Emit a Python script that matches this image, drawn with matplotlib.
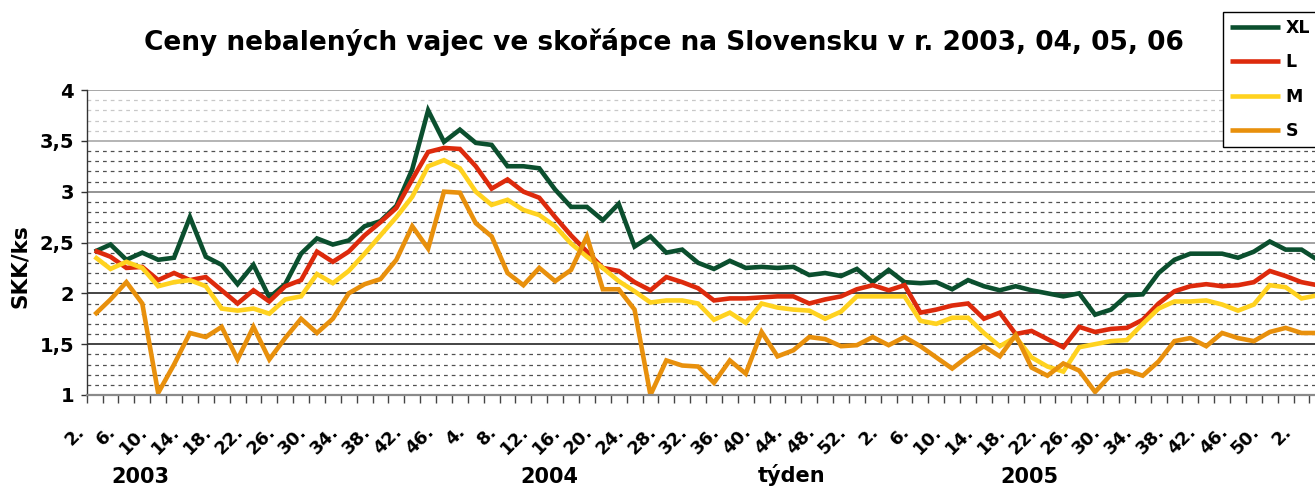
import matplotlib
matplotlib.use('Agg')
import matplotlib.pyplot as plt
from matplotlib.transforms import ScaledTranslation
import numpy as np

# ---- data -------------------------------------------------------------
weeks_2003 = [2, 4, 6, 8, 10, 12, 14, 16, 18, 20, 22, 24, 26, 28, 30, 32, 34,
              36, 38, 40, 42, 44, 46]
weeks_2004 = [2, 4, 6, 8, 10, 12, 14, 16, 18, 20, 22, 24, 26, 28, 30, 32, 34,
              36, 38, 40, 42, 44, 46, 48, 50, 52, 53]
weeks_2005 = [2, 4, 6, 8, 10, 12, 14, 16, 18, 20, 22, 24, 26, 28, 30, 32, 34,
              36, 38, 40, 42, 44, 46, 48, 50, 52]
weeks_2006 = [2, 4]

xl = [2.41, 2.48, 2.33, 2.40, 2.33, 2.35, 2.75, 2.36, 2.28, 2.09,
      2.28, 1.96, 2.09, 2.39, 2.54, 2.48, 2.52, 2.66, 2.71, 2.86,
      3.22, 3.80, 3.49, 3.61, 3.48, 3.46, 3.25, 3.25, 3.23, 3.02,
      2.85, 2.85, 2.72, 2.88, 2.46, 2.56, 2.40, 2.43, 2.30, 2.24,
      2.32, 2.25, 2.26, 2.25, 2.26, 2.18, 2.20, 2.17, 2.24, 2.11,
      2.23, 2.11, 2.10, 2.11, 2.04, 2.13, 2.07, 2.03, 2.07, 2.03,
      2.00, 1.97, 2.00, 1.79, 1.84, 1.98, 1.99, 2.20, 2.33, 2.39,
      2.39, 2.39, 2.35, 2.41, 2.51, 2.43, 2.43, 2.33]
l = [2.42, 2.36, 2.25, 2.26, 2.13, 2.20, 2.13, 2.16, 2.03, 1.90,
     2.03, 1.92, 2.07, 2.13, 2.41, 2.31, 2.41, 2.57, 2.70, 2.84,
     3.12, 3.39, 3.43, 3.42, 3.25, 3.03, 3.12, 3.00, 2.94, 2.75,
     2.57, 2.41, 2.25, 2.22, 2.11, 2.03, 2.16, 2.11, 2.05, 1.93,
     1.95, 1.95, 1.96, 1.97, 1.97, 1.90, 1.94, 1.97, 2.04, 2.08,
     2.03, 2.08, 1.81, 1.84, 1.88, 1.90, 1.75, 1.81, 1.60, 1.63,
     1.55, 1.47, 1.67, 1.62, 1.65, 1.66, 1.74, 1.90, 2.02, 2.07,
     2.09, 2.07, 2.08, 2.11, 2.22, 2.17, 2.11, 2.08]
m = [2.36, 2.24, 2.31, 2.25, 2.07, 2.11, 2.13, 2.07, 1.85, 1.83,
     1.85, 1.80, 1.94, 1.97, 2.19, 2.10, 2.22, 2.39, 2.57, 2.75,
     2.95, 3.25, 3.31, 3.23, 3.00, 2.87, 2.92, 2.82, 2.77, 2.66,
     2.49, 2.36, 2.25, 2.12, 2.02, 1.91, 1.93, 1.93, 1.90, 1.74,
     1.81, 1.71, 1.90, 1.86, 1.84, 1.83, 1.75, 1.82, 1.97, 1.97,
     1.97, 1.97, 1.73, 1.70, 1.76, 1.76, 1.61, 1.48, 1.57, 1.37,
     1.28, 1.23, 1.47, 1.50, 1.53, 1.54, 1.70, 1.85, 1.92, 1.92,
     1.93, 1.89, 1.83, 1.89, 2.08, 2.06, 1.95, 1.98]
s = [1.79, 1.94, 2.11, 1.90, 1.02, 1.30, 1.61, 1.57, 1.67, 1.35,
     1.67, 1.35, 1.56, 1.75, 1.61, 1.75, 2.00, 2.09, 2.14, 2.33,
     2.66, 2.44, 3.00, 2.99, 2.69, 2.56, 2.20, 2.08, 2.25, 2.12,
     2.23, 2.56, 2.04, 2.04, 1.84, 1.00, 1.34, 1.29, 1.28, 1.12,
     1.34, 1.21, 1.62, 1.38, 1.44, 1.57, 1.55, 1.48, 1.49, 1.57,
     1.49, 1.57, 1.48, 1.37, 1.26, 1.38, 1.48, 1.38, 1.59, 1.27,
     1.19, 1.31, 1.24, 1.03, 1.20, 1.24, 1.19, 1.33, 1.53, 1.56,
     1.48, 1.61, 1.56, 1.53, 1.62, 1.66, 1.61, 1.61]

series_names = ['XL', 'L', 'M', 'S']
series_colors = ['#0b4f2e', '#dd2a0c', '#ffd21f', '#e8900c']

y_major = [1, 1.5, 2, 2.5, 3, 3.5, 4]
y_labels = ['1', '1,5', '2', '2,5', '3', '3,5', '4']
year_labels = ['2003', '2004', '2005']

# ---- figure -----------------------------------------------------------
W, H = 1315, 488
plt.rcParams['font.family'] = ['DejaVu Sans']
fig = plt.figure(figsize=(W / 100, H / 100), dpi=100)

ax_left, ax_bottom = 86.7, 93
cat_w = 15.88
n_cat = len(weeks_2003) + len(weeks_2004) + len(weeks_2005) + len(weeks_2006)
ax = fig.add_axes([ax_left / W, ax_bottom / H, cat_w * n_cat / W, 305 / H])

weeks = weeks_2003 + weeks_2004 + weeks_2005 + weeks_2006
x = np.arange(len(weeks))

for vals, name, col in zip([xl, l, m, s], series_names, series_colors):
    ax.plot(x, vals, color=col, lw=3.3, label=name, solid_joinstyle='miter',
            solid_capstyle='butt')

ax.set_xlim(-0.5, n_cat - 0.5)
ax.set_ylim(1, 4)

# y axis & grid
y_minor = [round(1 + 0.1 * k, 1) for k in range(31) if k % 5 != 0]
ax.set_yticks(y_major)
ax.set_yticklabels(y_labels, fontweight='bold')
ax.set_yticks(y_minor, minor=True)
ax.set_axisbelow(True)
ax.yaxis.grid(True, which='major', lw=1.1, ls='-')
ax.yaxis.grid(True, which='minor', lw=0.9, ls=(0, (3, 3.2)))
major_cols = {1: '#444444', 1.5: '#111111', 2: '#111111', 2.5: '#888888',
              3: '#777777', 3.5: '#a0a0a0', 4: '#909090'}
for t, v in zip(ax.yaxis.get_major_ticks(), y_major):
    t.gridline.set_color(major_cols[v])
for t, v in zip(ax.yaxis.get_minor_ticks(), y_minor):
    t.gridline.set_color('#c8c8c8' if v > 3.5 else '#505050')

ax.tick_params(axis='y', which='major', direction='out', length=4.3,
               width=1, color='#333333', pad=4.8, labelsize=14)
ax.tick_params(axis='y', which='minor', length=0)

# x axis
major_pos = x[::2]
ax.set_xticks(major_pos)
ax.set_xticklabels([f"{w}." for w in weeks[::2]], fontweight='bold')
ax.set_xticks(np.arange(-0.5, n_cat, 1.0), minor=True)
ax.tick_params(axis='x', which='major', length=0, pad=0, labelsize=13)
ax.tick_params(axis='x', which='minor', direction='out', length=5.5,
               width=1, color='#444444')
offset = ScaledTranslation(-13.0 / 100, -33.5 / 100, fig.dpi_scale_trans)
for lab in ax.get_xticklabels():
    lab.set_rotation(45)
    lab.set_rotation_mode('anchor')
    lab.set_ha('right')
    lab.set_va('center')
    lab.set_transform(lab.get_transform() + offset)

for side in ['top', 'right']:
    ax.spines[side].set_visible(False)
ax.spines['left'].set_color('#333333')
ax.spines['left'].set_linewidth(1)
ax.spines['bottom'].set_color('#8a8a8a')
ax.spines['bottom'].set_linewidth(1.6)

# texts
fig.text(664 / W, 1 - 42 / H,
         'Ceny nebalených vajec ve skořápce na Slovensku v r. 2003, 04, 05, 06',
         ha='center', va='center', fontsize=19, fontweight='bold')
fig.text(20 / W, 1 - 266 / H, 'SKK/ks', rotation=90, ha='center',
         va='center', fontsize=15.5, fontweight='bold')
for txt, xc in zip(year_labels, [140, 549.5, 1029.5]):
    fig.text(xc / W, 1 - 483 / H, txt, ha='center', va='baseline',
             fontsize=15, fontweight='bold')
fig.text(791.5 / W, 1 - 482 / H, 'týden', ha='center', va='baseline',
         fontsize=15, fontweight='bold')

leg = fig.legend(loc='upper left', bbox_to_anchor=(1223 / W, 1 - 12 / H),
                 borderaxespad=0, handlelength=2.9,
                 handletextpad=0.3, labelspacing=0.95, borderpad=0.4,
                 fancybox=False, framealpha=1, edgecolor='#000000',
                 prop={'size': 12.5, 'weight': 'bold'})
leg.get_frame().set_linewidth(1)

fig.savefig('out.png', dpi=100)
